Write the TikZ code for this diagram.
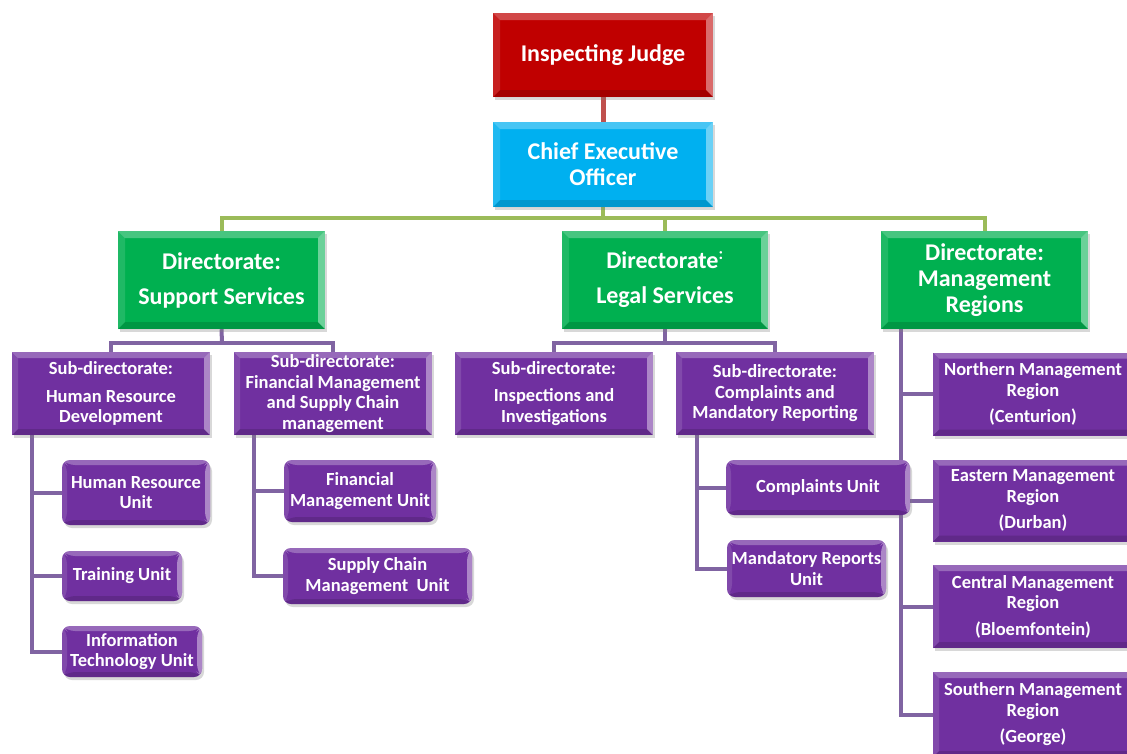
\documentclass[tikz,border=0pt]{standalone}
\usepackage{fontspec}
\setmainfont{Carlito}
\usetikzlibrary{shadows,backgrounds}
\definecolor{cred}{HTML}{C00000}
\definecolor{ccyan}{HTML}{00B0F0}
\definecolor{cgreen}{HTML}{00B050}
\definecolor{cpurple}{HTML}{7030A0}
\definecolor{lred}{HTML}{C0504D}
\definecolor{lgreen}{HTML}{9BBB59}
\definecolor{lpurple}{HTML}{8064A2}
\newcommand{\bevelpic}[1]{%
  \coordinate (bnw) at (path picture bounding box.north west);
  \coordinate (bne) at (path picture bounding box.north east);
  \coordinate (bsw) at (path picture bounding box.south west);
  \coordinate (bse) at (path picture bounding box.south east);
  \coordinate (inw) at ([xshift=#1,yshift=-#1]bnw);
  \coordinate (ine) at ([xshift=-#1,yshift=-#1]bne);
  \coordinate (isw) at ([xshift=#1,yshift=#1]bsw);
  \coordinate (ise) at ([xshift=-#1,yshift=#1]bse);
  \fill[white,opacity=.28] (bnw)--(bne)--(ine)--(inw)--cycle;
  \fill[white,opacity=.42] (bne)--(bse)--(ise)--(ine)--cycle;
  \fill[white,opacity=.12] (bnw)--(bsw)--(isw)--(inw)--cycle;
  \fill[black,opacity=.14] (bsw)--(bse)--(ise)--(isw)--cycle;
}
\tikzset{
  box/.style={draw=none, inner sep=0pt, align=center, text=white,
    drop shadow={shadow xshift=2pt,shadow yshift=-3pt,opacity=.3}},
  bigbox/.style={box, font=\fontsize{24}{26}\selectfont\bfseries, path picture={\bevelpic{7pt}}},
  subbox/.style={box, fill=cpurple, font=\fontsize{18.5}{20.5}\selectfont\bfseries, path picture={\bevelpic{6pt}}},
  unitbox/.style={box, fill=cpurple, rounded corners=8pt, font=\fontsize{18.5}{20.5}\selectfont\bfseries, path picture={\bevelpic{5pt}}},
  redln/.style={draw=lred, line width=5pt},
  greenln/.style={draw=lgreen, line width=4pt},
  purpln/.style={draw=lpurple, line width=4pt},
}
\begin{document}
\begin{tikzpicture}[x=1pt,y=-1pt]
\useasboundingbox (0,0) rectangle (1127,753);
% top
\node[bigbox, fill=cred, minimum width=220pt, minimum height=84pt] (ij) at (603,55) {Inspecting Judge};
\node[bigbox, fill=ccyan, minimum width=220pt, minimum height=85pt] (ceo) at (603,164.5) {Chief Executive\\Officer};
% directorates
\node[bigbox, fill=cgreen, minimum width=207pt, minimum height=98pt] (dss) at (221.5,280) {Directorate:\\[9pt]Support Services};
\node[bigbox, fill=cgreen, minimum width=206pt, minimum height=98pt] (dls) at (665,280) {Directorate\textsuperscript{:}\\[9pt]Legal Services};
\node[bigbox, fill=cgreen, minimum width=207pt, minimum height=98pt] (dmr) at (984.5,280) {Directorate:\\Management\\Regions};
% sub-directorates
\node[subbox, minimum width=198pt, minimum height=83pt] (shr) at (111,393.5) {Sub-directorate:\\[7pt]Human Resource\\Development};
\node[subbox, minimum width=198pt, minimum height=83pt] (sfm) at (333,393.5) {Sub-directorate:\\Financial Management\\and Supply Chain\\management};
\node[subbox, minimum width=198pt, minimum height=83pt] (sii) at (554,393.5) {Sub-directorate:\\[7pt]Inspections and\\Investigations};
\node[subbox, minimum width=198pt, minimum height=83pt] (scm) at (775,393.5) {Sub-directorate:\\Complaints and\\Mandatory Reporting};
% units
\node[unitbox, minimum width=148pt, minimum height=65pt] (uhr) at (136,492.5) {Human Resource\\Unit};
\node[unitbox, minimum width=120pt, minimum height=50pt] (utr) at (122,576) {Training Unit};
\node[unitbox, minimum width=140pt, minimum height=51pt] (uit) at (132,651.5) {Information\\Technology Unit};
\node[unitbox, minimum width=152pt, minimum height=62pt] (ufm) at (360,491) {Financial\\Management Unit};
\node[unitbox, minimum width=189pt, minimum height=56pt] (usc) at (377.5,576) {Supply Chain\\Management\ \ Unit};
\node[unitbox, minimum width=184pt, minimum height=55pt] (ucu) at (818,487.5) {Complaints Unit};
\node[unitbox, minimum width=159pt, minimum height=57pt] (umr) at (806.5,568.5) {Mandatory Reports\\Unit};
% regions
\node[subbox, minimum width=200pt, minimum height=83pt] (rno) at (1033,394) {Northern Management\\Region\\[6pt](Centurion)};
\node[subbox, minimum width=200pt, minimum height=82pt] (rea) at (1033,500.5) {Eastern Management\\Region\\[6pt](Durban)};
\node[subbox, minimum width=200pt, minimum height=83pt] (rce) at (1033,606.5) {Central Management\\Region\\[6pt](Bloemfontein)};
\node[subbox, minimum width=200pt, minimum height=85pt] (rso) at (1033,714.5) {Southern Management\\Region\\[6pt](George)};
% connectors
\begin{scope}[on background layer]
\fill[white] (0,0) rectangle (1127,753);
\draw[redln] (ij) -- (ceo);
\coordinate (gbus) at (603,218);
\draw[greenln] (ceo.south) -- (gbus);
\draw[greenln] (dss.north) |- (gbus) -| (dmr.north);
\draw[greenln] (dls.north) |- (gbus);
\coordinate (sbus) at (222,343);
\draw[purpln] (dss.south) -- (sbus);
\draw[purpln] (shr.north) |- (sbus) -| (sfm.north);
\coordinate (lbus) at (665,343);
\draw[purpln] (dls.south) -- (lbus);
\draw[purpln] (sii.north) |- (lbus) -| (scm.north);
\coordinate (hrv) at (32,435);
\draw[purpln] (hrv) |- (uhr.west);
\draw[purpln] (hrv) |- (utr.west);
\draw[purpln] (hrv) |- (uit.west);
\coordinate (fmv) at (254,435);
\draw[purpln] (fmv) |- (ufm.west);
\draw[purpln] (fmv) |- (usc.west);
\coordinate (cmv) at (697,435);
\draw[purpln] (cmv) |- (ucu.west);
\draw[purpln] (cmv) |- (umr.west);
\coordinate (mrv) at (901,329);
\draw[purpln] (mrv) |- (rno.west);
\draw[purpln] (mrv) |- (rea.west);
\draw[purpln] (mrv) |- (rce.west);
\draw[purpln] (mrv) |- (rso.west);
\end{scope}
\end{tikzpicture}
\end{document}
